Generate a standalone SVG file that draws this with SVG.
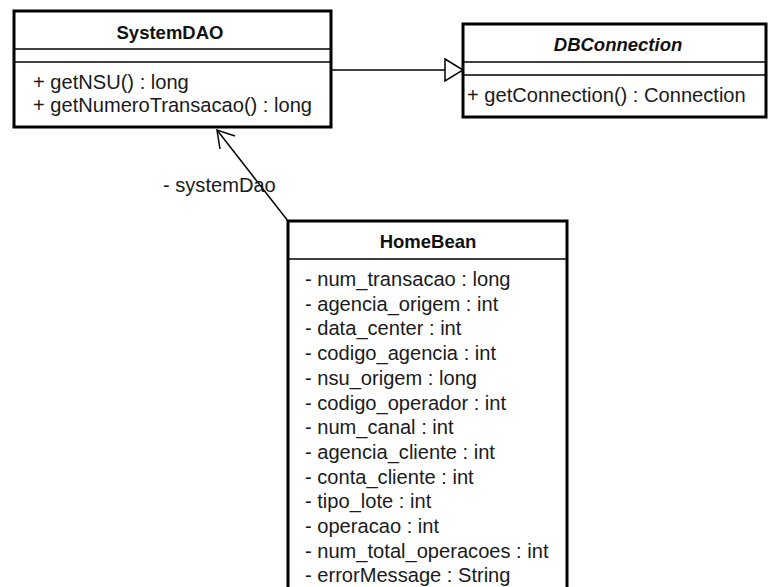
<svg xmlns="http://www.w3.org/2000/svg" width="768" height="587" viewBox="0 0 768 587">
  <style>
    .box { fill: #ffffff; stroke: #000000; stroke-width: 3; }
    .sep { stroke: #000000; stroke-width: 1.6; }
    .title { font-family: "Liberation Sans", Arial, sans-serif; font-size: 18.5px; font-weight: bold; fill: #111111; text-anchor: middle; }
    .member { font-family: "Liberation Sans", Arial, sans-serif; font-size: 20.1px; fill: #1a1a1a; }
    .edge { fill: none; stroke: #000000; stroke-width: 1.5; }
  </style>
  <rect width="768" height="587" fill="#ffffff"/>

  <!-- connectors -->
  <g id="connectors">
    <!-- SystemDAO generalizes DBConnection -->
    <line class="edge" x1="331" y1="70" x2="445" y2="70"/>
    <polygon points="445,59 463,70 445,81" fill="#ffffff" stroke="#000000" stroke-width="1.5"/>
    <!-- HomeBean navigates to SystemDAO -->
    <line class="edge" x1="288" y1="221" x2="217" y2="130"/>
    <polyline class="edge" points="220,149 217,130 235,136"/>
    <text class="member" x="163" y="192">- systemDao</text>
  </g>

  <g id="SystemDAO">
    <rect class="box" x="14" y="11" width="317" height="116"/>
    <line class="sep" x1="14" y1="49" x2="331" y2="49"/>
    <line class="sep" x1="14" y1="62" x2="331" y2="62"/>
    <text class="title" x="170" y="39">SystemDAO</text>
    <text class="member" x="33" y="89">+ getNSU() : long</text>
    <text class="member" x="33" y="112">+ getNumeroTransacao() : long</text>
  </g>

  <g id="DBConnection">
    <rect class="box" x="463" y="24" width="303" height="93"/>
    <line class="sep" x1="463" y1="62" x2="766" y2="62"/>
    <line class="sep" x1="463" y1="75" x2="766" y2="75"/>
    <text class="title" x="618" y="51" font-style="italic">DBConnection</text>
    <text class="member" x="467" y="102">+ getConnection() : Connection</text>
  </g>

  <g id="HomeBean">
    <rect class="box" x="288" y="221" width="279" height="380"/>
    <line class="sep" x1="288" y1="259" x2="567" y2="259"/>
    <text class="title" x="428" y="248">HomeBean</text>
    <text class="member" x="305" y="286">- num_transacao : long</text>
    <text class="member" x="305" y="310.7">- agencia_origem : int</text>
    <text class="member" x="305" y="335.4">- data_center : int</text>
    <text class="member" x="305" y="360.1">- codigo_agencia : int</text>
    <text class="member" x="305" y="384.8">- nsu_origem : long</text>
    <text class="member" x="305" y="409.5">- codigo_operador : int</text>
    <text class="member" x="305" y="434.2">- num_canal : int</text>
    <text class="member" x="305" y="458.9">- agencia_cliente : int</text>
    <text class="member" x="305" y="483.6">- conta_cliente : int</text>
    <text class="member" x="305" y="508.3">- tipo_lote : int</text>
    <text class="member" x="305" y="533">- operacao : int</text>
    <text class="member" x="305" y="557.7">- num_total_operacoes : int</text>
    <text class="member" x="305" y="582.4">- errorMessage : String</text>
  </g>
</svg>
